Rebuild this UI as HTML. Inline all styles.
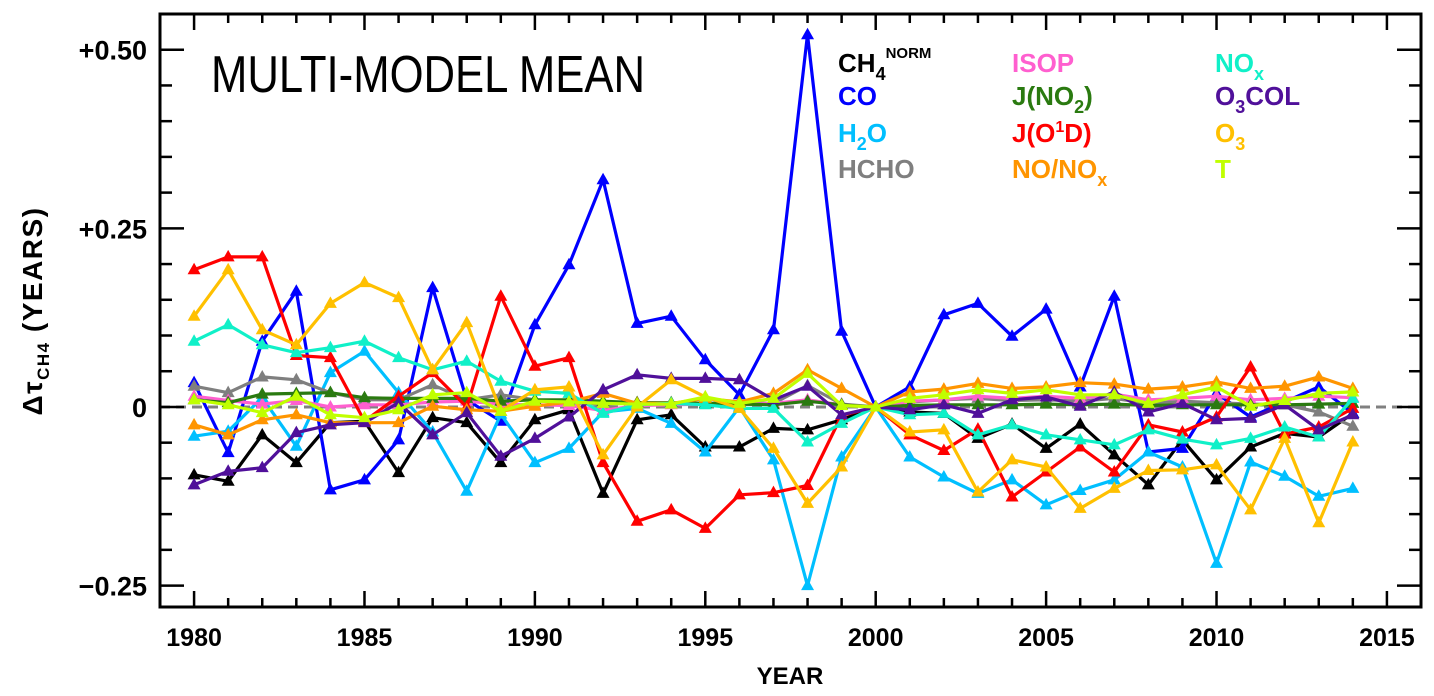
<!DOCTYPE html>
<html><head><meta charset="utf-8">
<style>
html,body{margin:0;padding:0;background:#fff;}
svg{display:block;font-family:"Liberation Sans",sans-serif;}
</style></head>
<body>
<svg id="chart" width="1434" height="696" viewBox="0 0 1434 696">
<g id="axes"></g>
<g id="series"></g>
<text x="211" y="92" font-size="52" textLength="434" lengthAdjust="spacingAndGlyphs" fill="#000">MULTI-MODEL MEAN</text>
<g id="legend" font-weight="bold" font-size="26">
 <text x="838" y="72" fill="#000">CH<tspan dy="8" font-size="18">4</tspan><tspan dy="-22" font-size="15">NORM</tspan></text>
 <text x="838" y="105" fill="#0000ff">CO</text>
 <text x="838" y="142" fill="#00bfff">H<tspan dy="8" font-size="18">2</tspan><tspan dy="-8">O</tspan></text>
 <text x="838" y="178" fill="#7f7f7f">HCHO</text>
 <text x="1012" y="72" fill="#ff5fcf">ISOP</text>
 <text x="1012" y="105" fill="#2a7a10">J(NO<tspan dy="8" font-size="18">2</tspan><tspan dy="-8">)</tspan></text>
 <text x="1012" y="142" fill="#ff0000">J(O<tspan dy="-10" font-size="16">1</tspan><tspan dy="10">D)</tspan></text>
 <text x="1012" y="178" fill="#ff9500">NO/NO<tspan dy="8" font-size="18">x</tspan></text>
 <text x="1215" y="72" fill="#10f0c8">NO<tspan dy="8" font-size="18">x</tspan></text>
 <text x="1215" y="105" fill="#50109a">O<tspan dy="8" font-size="18">3</tspan><tspan dy="-8">COL</tspan></text>
 <text x="1215" y="142" fill="#ffc000">O<tspan dy="8" font-size="18">3</tspan></text>
 <text x="1215" y="178" fill="#c0ff00">T</text>
</g>
<text transform="translate(42,311) rotate(-90)" text-anchor="middle" font-size="28" font-weight="bold" letter-spacing="1.5">Δτ<tspan dy="7" font-size="17">CH4</tspan><tspan dy="-7"> (YEARS)</tspan></text>
<text x="790" y="684" text-anchor="middle" font-size="24" font-weight="bold">YEAR</text>
</svg>
<script>
const years = [1980,1981,1982,1983,1984,1985,1986,1987,1988,1989,1990,1991,1992,1993,1994,1995,1996,1997,1998,1999,2000,2001,2002,2003,2004,2005,2006,2007,2008,2009,2010,2011,2012,2013,2014];
const ch4norm = [-0.095,-0.104,-0.039,-0.078,-0.022,-0.02,-0.092,-0.015,-0.022,-0.078,-0.018,-0.004,-0.121,-0.018,-0.011,-0.056,-0.056,-0.03,-0.032,-0.018,0,-0.007,-0.009,-0.044,-0.024,-0.058,-0.024,-0.067,-0.109,-0.046,-0.102,-0.056,-0.037,-0.042,-0.009];
const co = [0.034,-0.064,0.092,0.162,-0.116,-0.102,-0.046,0.167,0.01,-0.02,0.115,0.199,0.318,0.117,0.127,0.066,0.017,0.108,0.521,0.106,0,0.028,0.129,0.145,0.099,0.137,0.028,0.155,-0.063,-0.058,0.019,-0.014,0.007,0.028,-0.009];
const h2o = [-0.041,-0.034,0.013,-0.055,0.048,0.078,0.02,-0.035,-0.118,-0.01,-0.078,-0.058,-0.007,-0.002,-0.023,-0.063,0,-0.074,-0.25,-0.07,0,-0.07,-0.098,-0.121,-0.102,-0.137,-0.117,-0.102,-0.063,-0.084,-0.219,-0.077,-0.097,-0.125,-0.114];
const hcho = [0.029,0.02,0.042,0.038,0.02,0.01,0.01,0.031,0.01,0.017,0.01,0.006,0.004,0.006,0.005,0.005,0.006,0.005,0.03,0.004,0,0.007,0.01,0.012,0.009,0.01,0.008,0.012,0.005,0.008,0.006,0.004,0.003,-0.007,-0.027];
const isop = [0.015,0.009,0.004,0.009,0,0.003,0.003,0.007,0.008,0.004,0.003,0.002,-0.005,0.002,0.003,0.004,0.003,0.005,0.01,0.003,0,0.008,0.01,0.015,0.012,0.015,0.012,0.018,0.01,0.012,0.015,0.01,0.012,0.015,0.013];
const jno2 = [0.01,0.006,0.018,0.019,0.02,0.013,0.012,0.012,0.012,0.008,0.01,0.01,0.008,0.006,0.006,0.005,0.004,0.003,0.008,0.003,0,0.002,0.003,0.003,0.003,0.004,0.003,0.004,0.002,0.003,0.003,0.003,0.003,0.004,0.005];
const jo1d = [0.192,0.21,0.21,0.072,0.069,-0.02,0.015,0.048,0,0.155,0.057,0.069,-0.078,-0.16,-0.144,-0.17,-0.123,-0.12,-0.11,-0.012,0,-0.039,-0.061,-0.031,-0.126,-0.091,-0.056,-0.091,-0.025,-0.035,-0.014,0.056,-0.038,-0.028,-0.002];
const nonox = [-0.025,-0.039,-0.018,-0.011,-0.022,-0.022,-0.022,0.001,-0.004,-0.006,0.001,0.007,0.019,0.005,0.005,0.012,0.007,0.019,0.052,0.026,0,0.021,0.025,0.033,0.026,0.028,0.034,0.032,0.025,0.028,0.035,0.026,0.029,0.042,0.026];
const nox = [0.092,0.115,0.087,0.076,0.083,0.092,0.069,0.052,0.064,0.036,0.022,0.019,-0.009,0.003,0.005,0.003,-0.002,-0.002,-0.049,-0.023,0,-0.011,-0.009,-0.039,-0.025,-0.039,-0.046,-0.053,-0.032,-0.045,-0.053,-0.044,-0.028,-0.042,0.012];
const o3col = [-0.109,-0.09,-0.085,-0.036,-0.025,-0.022,0.006,-0.039,-0.008,-0.069,-0.044,-0.014,0.024,0.045,0.04,0.04,0.038,0.01,0.029,-0.011,0,-0.004,0.003,-0.009,0.01,0.014,0.001,0.021,-0.007,0.005,-0.018,-0.016,0.003,-0.032,-0.011];
const o3 = [0.127,0.192,0.108,0.087,0.145,0.174,0.153,0.052,0.118,-0.006,0.024,0.028,-0.067,0,0.038,0.014,-0.002,-0.058,-0.135,-0.084,0,-0.035,-0.032,-0.119,-0.074,-0.084,-0.142,-0.114,-0.089,-0.088,-0.081,-0.144,-0.044,-0.162,-0.049];
const temp = [0.01,0.003,-0.008,0.015,-0.011,-0.015,-0.004,0.017,0.02,-0.006,0.008,0.007,0.005,0.004,0.004,0.014,0.005,0.012,0.047,0.002,0,0.012,0.017,0.024,0.019,0.024,0.017,0.017,0.005,0.017,0.028,0.001,0.009,0.019,0.021];
const yTickValues = [-0.25,0,0.25,0.5];
const yTickLabels = ["\u22120.25","0","+0.25","+0.50"];
const xTickLabels = [1980,1985,1990,1995,2000,2005,2010,2015];

const NS="http://www.w3.org/2000/svg";
const X0=160,X1=1421,Y0=14,Y1=607;
const xMin=1979,xMax=2016,yMin=-0.28,yMax=0.55;
function xs(v){return X0+(v-xMin)/(xMax-xMin)*(X1-X0);}
function ys(v){return Y1-(v-yMin)/(yMax-yMin)*(Y1-Y0);}
function mk(tag,attrs,parent){const e=document.createElementNS(NS,tag);for(const k in attrs)e.setAttribute(k,attrs[k]);parent.appendChild(e);return e;}

const axes=document.getElementById('axes');
const z=mk('line',{x1:X0,x2:X1,y1:ys(0),y2:ys(0),stroke:'#808080','stroke-width':3,'stroke-dasharray':'10,6'},axes);


const fr=mk('rect',{x:X0,y:Y0,width:X1-X0,height:Y1-Y0,fill:'none',stroke:'#000','stroke-width':3},axes);


for(let yr=1980;yr<=2015;yr++){
  const major=yr%5===0, L=major?16:9, x=xs(yr);
  mk('line',{x1:x,x2:x,y1:Y1,y2:Y1-L,stroke:'#000','stroke-width':2.5},axes);
  mk('line',{x1:x,x2:x,y1:Y0,y2:Y0+L,stroke:'#000','stroke-width':2.5},axes);
}
xTickLabels.forEach(v=>{
  const t=mk('text',{x:xs(v),y:646,'text-anchor':'middle','font-size':25,'font-weight':'bold'},axes);
  t.textContent=v;
  
  
});
for(let i=-5;i<=10;i++){
  const v=i*0.05, major=(i%5===0), L=major?24:12, y=ys(v);
  if(y<Y0||y>Y1)continue;
  mk('line',{x1:X0,x2:X0+L,y1:y,y2:y,stroke:'#000','stroke-width':2.5},axes);
  mk('line',{x1:X1,x2:X1-L,y1:y,y2:y,stroke:'#000','stroke-width':2.5},axes);
}
yTickValues.forEach((v,i)=>{
  const t=mk('text',{x:147,y:ys(v)+10,'text-anchor':'end','font-size':27,'font-weight':'bold'},axes);
  t.textContent=yTickLabels[i];
  
  
});

const seriesList=[
 ['ch4norm',ch4norm,'#000000'],['co',co,'#0000ff'],['h2o',h2o,'#00bfff'],['hcho',hcho,'#7f7f7f'],
 ['isop',isop,'#ff5fcf'],['jno2',jno2,'#2a7a10'],['jo1d',jo1d,'#ff0000'],['no-nox',nonox,'#ff9500'],
 ['nox',nox,'#10f0c8'],['o3col',o3col,'#50109a'],['o3',o3,'#ffc000'],['t',temp,'#c0ff00']
];
const sg=document.getElementById('series');
seriesList.forEach(([name,vals,col])=>{
  const g=mk('g',{},sg);
  
  
  const pts=vals.map((v,i)=>xs(years[i]).toFixed(1)+','+ys(v).toFixed(1)).join(' ');
  const pl=mk('polyline',{points:pts,fill:'none',stroke:col,'stroke-width':3.2,'stroke-linejoin':'round'},g);
  
  
  vals.forEach((v,i)=>{
    const x=xs(years[i]),y=ys(v);
    const m=mk('polygon',{points:`${x},${y-7} ${x-6.5},${y+4.5} ${x+6.5},${y+4.5}`,fill:col},g);
    
    
  });
});
</script>
</body></html>
